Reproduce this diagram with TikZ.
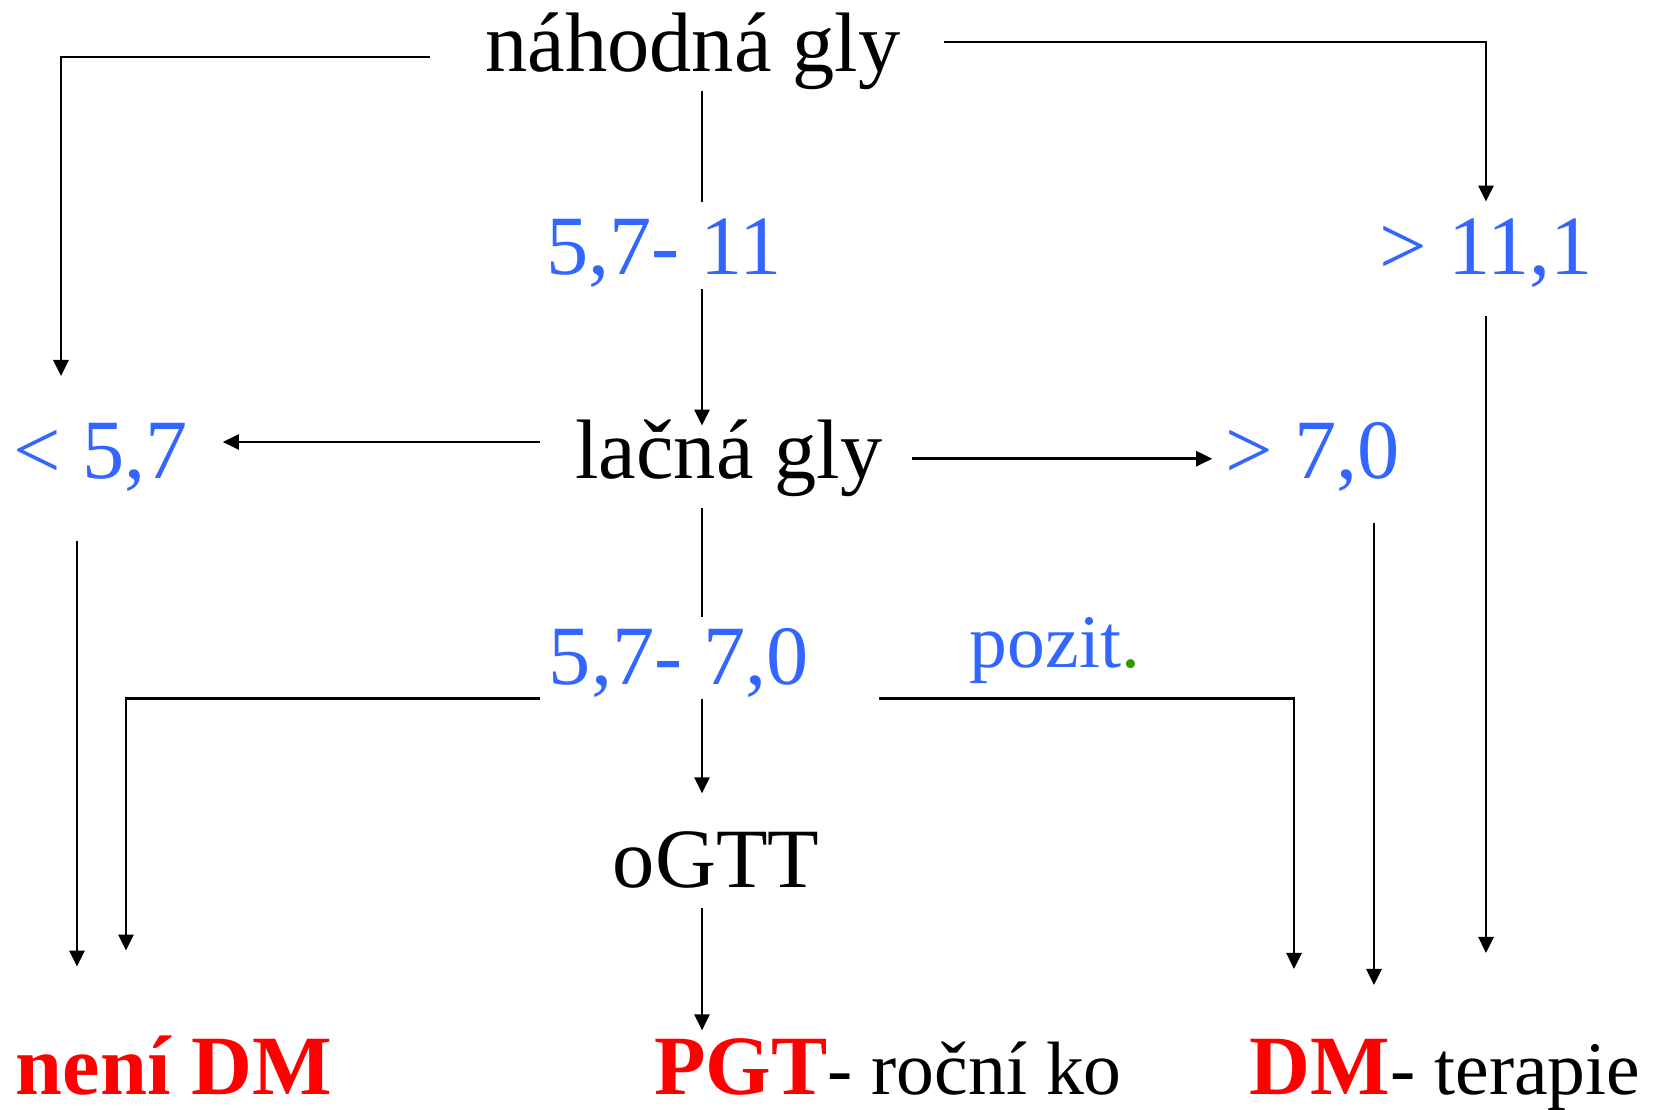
\documentclass[tikz,border=0pt]{standalone}
\usepackage{fontspec}
\setmainfont{Liberation Serif}
\usetikzlibrary{arrows.meta}
\definecolor{valblue}{HTML}{3366FF}
\definecolor{dmred}{HTML}{FF0000}
\definecolor{dotgreen}{HTML}{339900}
\newcommand{\smalltail}{\fontsize{21.5}{25}\selectfont}

\begin{document}
\begin{tikzpicture}
[x=0.01cm,y=-0.01cm,
  txt/.style={anchor=base,inner sep=0pt,font=\fontsize{24}{28}\selectfont},%
  val/.style={txt,text=valblue},%
  res/.style={txt,text=dmred,font=\fontsize{24}{28}\selectfont\bfseries},%
  line/.style={-,line width=0.75pt},%
  conn/.style={line,-{Triangle[length=0.16cm,width=0.15cm]}}]
\useasboundingbox (0,0) rectangle (1657,1110);
%% nodes
\node (nah)   at (693,72)   [txt] {náhodná gly};
\node (mid1)  at (664,275)  [val] {5,7- 11};
\node (gt111) at (1486,275) [val] {> 11,1};
\node (lt57)  at (101,479)  [val] {< 5,7};
\node (lac)   at (729,479)  [txt] {lačná gly};
\node (gt70)  at (1313,479) [val] {> 7,0};
\node (mid2)  at (679,685)  [val] {5,7- 7,0};
\node (pozit) at (1055,668) [val,font=\smalltail] {pozit\textcolor{dotgreen}{.}};
\node (ogtt)  at (716,888)  [txt] {oGTT};
\node (neni)  at (174,1094) [res] {není DM};
\node (pgt)   at (888,1094) [txt] {\textcolor{dmred}{\bfseries PGT}{\smalltail- roční ko}};
\node (dmt)   at (1445,1094) [txt] {\textcolor{dmred}{\bfseries DM}{\smalltail- terapie}};
%% lanes
\coordinate (trunk) at (702,0);
\coordinate (xRand) at (61,0);
\coordinate (xNeni1) at (77,0);
\coordinate (xNeni2) at (126,0);
\coordinate (xDm1) at (1294,0);
\coordinate (xDm2) at (1374,0);
\coordinate (yNahL) at (0,57);
\coordinate (yNahR) at (0,42);
\coordinate (yLacL) at (0,442);
%% random glycaemia
\draw[conn,shorten >=0.47cm] (nah.west |- yNahL) ++(-55,0) -| (xRand |- lt57.north);
\draw[conn,shorten >=0.17cm] (nah.east |- yNahR) ++(43,0) -| (gt111.north);
\draw[line,shorten >=0.17cm] (nah.south -| trunk) -- (mid1.north -| trunk);
\draw[conn,shorten >=-0.06cm] (mid1.south -| trunk) -- (lac.north -| trunk);
\draw[conn,shorten <=0.27cm,shorten >=0.85cm] (gt111.south) -- (gt111.south |- dmt.north);
%% fasting glycaemia
\draw[conn,shorten >=0.34cm] (lac.west |- yLacL) ++(-35,0) -- (lt57.east |- yLacL);
\draw[conn,shorten >=0.13cm] (lac.east) ++(29,0) -- (gt70.west |- lac.east);
\draw[line,shorten <=0.1cm,shorten >=0.11cm] (lac.south -| trunk) -- (mid2.north -| trunk);
\draw[conn,shorten <=0.48cm,shorten >=0.68cm] (xNeni1 |- lt57.south) -- (xNeni1 |- neni.north);
\draw[conn,shorten <=0.3cm,shorten >=0.53cm] (xDm2 |- gt70.south) -- (xDm2 |- dmt.north);
%% borderline values
\draw[conn,shorten >=0.84cm] (mid2.south west) ++(-8,0) -| (xNeni2 |- neni.north);
\draw[conn,shorten >=0.69cm] (mid2.south east) ++(69,0) -| (xDm1 |- dmt.north);
\draw[conn,shorten >=0.38cm] (mid2.south -| trunk) -- (ogtt.north -| trunk);
\draw[conn,shorten <=0.18cm,shorten >=0.07cm] (ogtt.south -| trunk) -- (pgt.north -| trunk);
\end{tikzpicture}
\end{document}
